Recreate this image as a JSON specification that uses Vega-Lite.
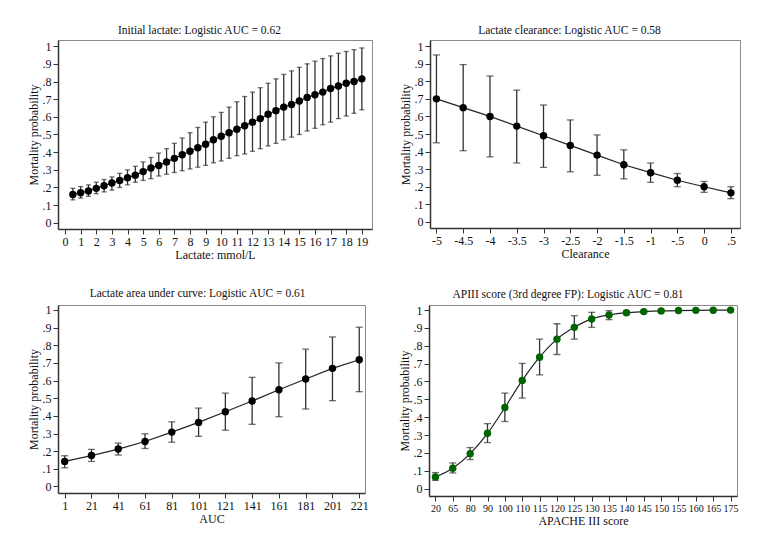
{
  "$schema": "https://vega.github.io/schema/vega-lite/v6.json",
  "background": "white",
  "padding": {"left": 26, "top": 24, "right": 10, "bottom": 10},
  "config": {
    "font": "'Liberation Serif', 'Times New Roman', serif",
    "view": {"stroke": "#8a8a8a", "strokeWidth": 1},
    "axis": {"grid": false, "domainColor": "#333", "domainWidth": 1.5, "tickColor": "#333", "tickSize": 5, "labelFontSize": 12, "labelColor": "#111", "titleFontSize": 12, "titleFontWeight": "normal", "titleColor": "#111", "labelPadding": 2, "titlePadding": 2, "labelFlush": false, "labelOverlap": false},
    "title": {"fontSize": 11.5, "fontWeight": "normal", "color": "#111", "offset": 4, "frame": "bounds"}
  },
  "datasets": {
    "p1": [
      {"x": 0.5, "p": 0.16, "lo": 0.13, "hi": 0.195},
      {"x": 1, "p": 0.17, "lo": 0.14, "hi": 0.205},
      {"x": 1.5, "p": 0.18, "lo": 0.15, "hi": 0.215},
      {"x": 2, "p": 0.195, "lo": 0.165, "hi": 0.23},
      {"x": 2.5, "p": 0.21, "lo": 0.175, "hi": 0.245},
      {"x": 3, "p": 0.225, "lo": 0.185, "hi": 0.26},
      {"x": 3.5, "p": 0.24, "lo": 0.2, "hi": 0.28},
      {"x": 4, "p": 0.255, "lo": 0.215, "hi": 0.3},
      {"x": 4.5, "p": 0.27, "lo": 0.23, "hi": 0.32},
      {"x": 5, "p": 0.29, "lo": 0.24, "hi": 0.345},
      {"x": 5.5, "p": 0.31, "lo": 0.25, "hi": 0.37},
      {"x": 6, "p": 0.325, "lo": 0.265, "hi": 0.395},
      {"x": 6.5, "p": 0.345, "lo": 0.275, "hi": 0.42},
      {"x": 7, "p": 0.365, "lo": 0.285, "hi": 0.45},
      {"x": 7.5, "p": 0.385, "lo": 0.295, "hi": 0.48},
      {"x": 8, "p": 0.405, "lo": 0.305, "hi": 0.51},
      {"x": 8.5, "p": 0.425, "lo": 0.315, "hi": 0.54},
      {"x": 9, "p": 0.445, "lo": 0.325, "hi": 0.57},
      {"x": 9.5, "p": 0.47, "lo": 0.34, "hi": 0.6},
      {"x": 10, "p": 0.49, "lo": 0.35, "hi": 0.625},
      {"x": 10.5, "p": 0.51, "lo": 0.365, "hi": 0.655},
      {"x": 11, "p": 0.53, "lo": 0.38, "hi": 0.685},
      {"x": 11.5, "p": 0.55, "lo": 0.39, "hi": 0.715},
      {"x": 12, "p": 0.57, "lo": 0.405, "hi": 0.74},
      {"x": 12.5, "p": 0.59, "lo": 0.42, "hi": 0.765},
      {"x": 13, "p": 0.615, "lo": 0.435, "hi": 0.79},
      {"x": 13.5, "p": 0.635, "lo": 0.45, "hi": 0.815},
      {"x": 14, "p": 0.655, "lo": 0.47, "hi": 0.84},
      {"x": 14.5, "p": 0.67, "lo": 0.485, "hi": 0.86},
      {"x": 15, "p": 0.69, "lo": 0.5, "hi": 0.88},
      {"x": 15.5, "p": 0.71, "lo": 0.52, "hi": 0.9},
      {"x": 16, "p": 0.725, "lo": 0.535, "hi": 0.915},
      {"x": 16.5, "p": 0.74, "lo": 0.555, "hi": 0.93},
      {"x": 17, "p": 0.76, "lo": 0.57, "hi": 0.945},
      {"x": 17.5, "p": 0.775, "lo": 0.59, "hi": 0.96},
      {"x": 18, "p": 0.79, "lo": 0.605, "hi": 0.97},
      {"x": 18.5, "p": 0.8, "lo": 0.62, "hi": 0.98},
      {"x": 19, "p": 0.815, "lo": 0.64, "hi": 0.99}
    ],
    "p2": [
      {"x": -5, "p": 0.7, "lo": 0.45, "hi": 0.95},
      {"x": -4.5, "p": 0.65, "lo": 0.405, "hi": 0.895},
      {"x": -4, "p": 0.6, "lo": 0.37, "hi": 0.83},
      {"x": -3.5, "p": 0.545, "lo": 0.335, "hi": 0.75},
      {"x": -3, "p": 0.49, "lo": 0.31, "hi": 0.665},
      {"x": -2.5, "p": 0.435, "lo": 0.285, "hi": 0.58},
      {"x": -2, "p": 0.38, "lo": 0.265, "hi": 0.495},
      {"x": -1.5, "p": 0.325, "lo": 0.245, "hi": 0.41},
      {"x": -1, "p": 0.28, "lo": 0.225, "hi": 0.335},
      {"x": -0.5, "p": 0.237, "lo": 0.2, "hi": 0.275},
      {"x": 0, "p": 0.2, "lo": 0.168, "hi": 0.23},
      {"x": 0.5, "p": 0.165, "lo": 0.132, "hi": 0.2}
    ],
    "p3": [
      {"x": 1, "p": 0.142, "lo": 0.106, "hi": 0.174},
      {"x": 21, "p": 0.175, "lo": 0.142, "hi": 0.21},
      {"x": 41, "p": 0.212, "lo": 0.178, "hi": 0.246},
      {"x": 61, "p": 0.255, "lo": 0.215, "hi": 0.298},
      {"x": 81, "p": 0.308, "lo": 0.251, "hi": 0.366},
      {"x": 101, "p": 0.363, "lo": 0.284, "hi": 0.444},
      {"x": 121, "p": 0.423, "lo": 0.319, "hi": 0.529},
      {"x": 141, "p": 0.484, "lo": 0.352, "hi": 0.618},
      {"x": 161, "p": 0.548, "lo": 0.395, "hi": 0.7},
      {"x": 181, "p": 0.609, "lo": 0.439, "hi": 0.778},
      {"x": 201, "p": 0.669, "lo": 0.486, "hi": 0.847},
      {"x": 221, "p": 0.718, "lo": 0.537, "hi": 0.902}
    ],
    "p4": [
      {"x": 20, "p": 0.065, "lo": 0.047, "hi": 0.09},
      {"x": 65, "p": 0.114, "lo": 0.088, "hi": 0.144},
      {"x": 80, "p": 0.196, "lo": 0.163, "hi": 0.23},
      {"x": 90, "p": 0.31, "lo": 0.258, "hi": 0.364},
      {"x": 100, "p": 0.454, "lo": 0.376, "hi": 0.535},
      {"x": 110, "p": 0.606, "lo": 0.507, "hi": 0.701},
      {"x": 115, "p": 0.736, "lo": 0.637, "hi": 0.837},
      {"x": 120, "p": 0.837, "lo": 0.751, "hi": 0.923},
      {"x": 125, "p": 0.903, "lo": 0.837, "hi": 0.968},
      {"x": 130, "p": 0.95, "lo": 0.903, "hi": 0.987},
      {"x": 135, "p": 0.972, "lo": 0.946, "hi": 0.996},
      {"x": 140, "p": 0.985, "lo": 0.974, "hi": 0.994},
      {"x": 145, "p": 0.991, "lo": 0.984, "hi": 0.996},
      {"x": 150, "p": 0.995, "lo": 0.99, "hi": 0.998},
      {"x": 155, "p": 0.997, "lo": 0.994, "hi": 0.999},
      {"x": 160, "p": 0.998, "lo": 0.996, "hi": 0.9995},
      {"x": 165, "p": 0.999, "lo": 0.998, "hi": 0.9998},
      {"x": 175, "p": 0.9995, "lo": 0.999, "hi": 1}
    ]
  },
  "vconcat": [
    {
      "spacing": 25,
      "hconcat": [
        {
          "title": "Initial lactate: Logistic AUC = 0.62",
          "width": 314, "height": 189,
          "data": {"name": "p1"},
          "layer": [
            {"mark": {"type": "line", "color": "#222", "strokeWidth": 1.2},
             "encoding": {
               "x": {"field": "x", "type": "quantitative", "title": "Lactate: mmol/L", "scale": {"domain": [-0.45, 19.65], "nice": false, "zero": false}, "axis": {"values": [0,1,2,3,4,5,6,7,8,9,10,11,12,13,14,15,16,17,18,19]}},
               "y": {"field": "p", "type": "quantitative", "title": "Mortality probability", "scale": {"domain": [-0.035, 1.035], "nice": false}, "axis": {"values": [0,0.1,0.2,0.3,0.4,0.5,0.6,0.7,0.8,0.9,1], "labelExpr": "replace(toString(datum.value), '0.', '.')"}}}},
            {"mark": {"type": "rule", "color": "#333", "strokeWidth": 1.3},
             "encoding": {
               "x": {"field": "x", "type": "quantitative", "title": "Lactate: mmol/L", "scale": {"domain": [-0.45, 19.65], "nice": false, "zero": false}, "axis": {"values": [0,1,2,3,4,5,6,7,8,9,10,11,12,13,14,15,16,17,18,19]}},
               "y": {"field": "lo", "type": "quantitative", "title": "Mortality probability", "scale": {"domain": [-0.035, 1.035], "nice": false}, "axis": {"values": [0,0.1,0.2,0.3,0.4,0.5,0.6,0.7,0.8,0.9,1], "labelExpr": "replace(toString(datum.value), '0.', '.')"}},
               "y2": {"field": "hi"}}},
            {"mark": {"type": "tick", "orient": "horizontal", "size": 5, "thickness": 1.3, "color": "#333"},
             "encoding": {
               "x": {"field": "x", "type": "quantitative", "title": "Lactate: mmol/L", "scale": {"domain": [-0.45, 19.65], "nice": false, "zero": false}, "axis": {"values": [0,1,2,3,4,5,6,7,8,9,10,11,12,13,14,15,16,17,18,19]}},
               "y": {"field": "lo", "type": "quantitative", "title": "Mortality probability", "scale": {"domain": [-0.035, 1.035], "nice": false}, "axis": {"values": [0,0.1,0.2,0.3,0.4,0.5,0.6,0.7,0.8,0.9,1], "labelExpr": "replace(toString(datum.value), '0.', '.')"}}}},
            {"mark": {"type": "tick", "orient": "horizontal", "size": 5, "thickness": 1.3, "color": "#333"},
             "encoding": {
               "x": {"field": "x", "type": "quantitative", "title": "Lactate: mmol/L", "scale": {"domain": [-0.45, 19.65], "nice": false, "zero": false}, "axis": {"values": [0,1,2,3,4,5,6,7,8,9,10,11,12,13,14,15,16,17,18,19]}},
               "y": {"field": "hi", "type": "quantitative", "title": "Mortality probability", "scale": {"domain": [-0.035, 1.035], "nice": false}, "axis": {"values": [0,0.1,0.2,0.3,0.4,0.5,0.6,0.7,0.8,0.9,1], "labelExpr": "replace(toString(datum.value), '0.', '.')"}}}},
            {"mark": {"type": "circle", "size": 55, "opacity": 1, "color": "#000"},
             "encoding": {
               "x": {"field": "x", "type": "quantitative", "title": "Lactate: mmol/L", "scale": {"domain": [-0.45, 19.65], "nice": false, "zero": false}, "axis": {"values": [0,1,2,3,4,5,6,7,8,9,10,11,12,13,14,15,16,17,18,19]}},
               "y": {"field": "p", "type": "quantitative", "title": "Mortality probability", "scale": {"domain": [-0.035, 1.035], "nice": false}, "axis": {"values": [0,0.1,0.2,0.3,0.4,0.5,0.6,0.7,0.8,0.9,1], "labelExpr": "replace(toString(datum.value), '0.', '.')"}}}}
          ]
        },
        {
          "title": "Lactate clearance: Logistic AUC = 0.58",
          "width": 310, "height": 188,
          "data": {"name": "p2"},
          "layer": [
            {"mark": {"type": "line", "color": "#222", "strokeWidth": 1.2},
             "encoding": {
               "x": {"field": "x", "type": "quantitative", "title": "Clearance", "scale": {"domain": [-5.12, 0.67], "nice": false, "zero": false}, "axis": {"values": [-5,-4.5,-4,-3.5,-3,-2.5,-2,-1.5,-1,-0.5,0,0.5], "labelExpr": "replace(toString(datum.value), '0.', '.')"}},
               "y": {"field": "p", "type": "quantitative", "title": "Mortality probability", "scale": {"domain": [-0.035, 1.035], "nice": false}, "axis": {"values": [0,0.1,0.2,0.3,0.4,0.5,0.6,0.7,0.8,0.9,1], "labelExpr": "replace(toString(datum.value), '0.', '.')"}}}},
            {"mark": {"type": "rule", "color": "#333", "strokeWidth": 1.3},
             "encoding": {
               "x": {"field": "x", "type": "quantitative", "title": "Clearance", "scale": {"domain": [-5.12, 0.67], "nice": false, "zero": false}, "axis": {"values": [-5,-4.5,-4,-3.5,-3,-2.5,-2,-1.5,-1,-0.5,0,0.5], "labelExpr": "replace(toString(datum.value), '0.', '.')"}},
               "y": {"field": "lo", "type": "quantitative", "title": "Mortality probability", "scale": {"domain": [-0.035, 1.035], "nice": false}, "axis": {"values": [0,0.1,0.2,0.3,0.4,0.5,0.6,0.7,0.8,0.9,1], "labelExpr": "replace(toString(datum.value), '0.', '.')"}},
               "y2": {"field": "hi"}}},
            {"mark": {"type": "tick", "orient": "horizontal", "size": 7, "thickness": 1.3, "color": "#333"},
             "encoding": {
               "x": {"field": "x", "type": "quantitative", "title": "Clearance", "scale": {"domain": [-5.12, 0.67], "nice": false, "zero": false}, "axis": {"values": [-5,-4.5,-4,-3.5,-3,-2.5,-2,-1.5,-1,-0.5,0,0.5], "labelExpr": "replace(toString(datum.value), '0.', '.')"}},
               "y": {"field": "lo", "type": "quantitative", "title": "Mortality probability", "scale": {"domain": [-0.035, 1.035], "nice": false}, "axis": {"values": [0,0.1,0.2,0.3,0.4,0.5,0.6,0.7,0.8,0.9,1], "labelExpr": "replace(toString(datum.value), '0.', '.')"}}}},
            {"mark": {"type": "tick", "orient": "horizontal", "size": 7, "thickness": 1.3, "color": "#333"},
             "encoding": {
               "x": {"field": "x", "type": "quantitative", "title": "Clearance", "scale": {"domain": [-5.12, 0.67], "nice": false, "zero": false}, "axis": {"values": [-5,-4.5,-4,-3.5,-3,-2.5,-2,-1.5,-1,-0.5,0,0.5], "labelExpr": "replace(toString(datum.value), '0.', '.')"}},
               "y": {"field": "hi", "type": "quantitative", "title": "Mortality probability", "scale": {"domain": [-0.035, 1.035], "nice": false}, "axis": {"values": [0,0.1,0.2,0.3,0.4,0.5,0.6,0.7,0.8,0.9,1], "labelExpr": "replace(toString(datum.value), '0.', '.')"}}}},
            {"mark": {"type": "circle", "size": 55, "opacity": 1, "color": "#000"},
             "encoding": {
               "x": {"field": "x", "type": "quantitative", "title": "Clearance", "scale": {"domain": [-5.12, 0.67], "nice": false, "zero": false}, "axis": {"values": [-5,-4.5,-4,-3.5,-3,-2.5,-2,-1.5,-1,-0.5,0,0.5], "labelExpr": "replace(toString(datum.value), '0.', '.')"}},
               "y": {"field": "p", "type": "quantitative", "title": "Mortality probability", "scale": {"domain": [-0.035, 1.035], "nice": false}, "axis": {"values": [0,0.1,0.2,0.3,0.4,0.5,0.6,0.7,0.8,0.9,1], "labelExpr": "replace(toString(datum.value), '0.', '.')"}}}}
          ]
        }
      ]
    },
    {
      "spacing": 28,
      "hconcat": [
        {
          "title": "Lactate area under curve: Logistic AUC = 0.61",
          "width": 307, "height": 188,
          "data": {"name": "p3"},
          "layer": [
            {"mark": {"type": "line", "color": "#222", "strokeWidth": 1.2},
             "encoding": {
               "x": {"field": "x", "type": "quantitative", "title": "AUC", "scale": {"domain": [-4, 225.3], "nice": false, "zero": false}, "axis": {"values": [1,21,41,61,81,101,121,141,161,181,201,221]}},
               "y": {"field": "p", "type": "quantitative", "title": "Mortality probability", "scale": {"domain": [-0.037, 1.028], "nice": false}, "axis": {"values": [0,0.1,0.2,0.3,0.4,0.5,0.6,0.7,0.8,0.9,1], "labelExpr": "replace(toString(datum.value), '0.', '.')"}}}},
            {"mark": {"type": "rule", "color": "#333", "strokeWidth": 1.3},
             "encoding": {
               "x": {"field": "x", "type": "quantitative", "title": "AUC", "scale": {"domain": [-4, 225.3], "nice": false, "zero": false}, "axis": {"values": [1,21,41,61,81,101,121,141,161,181,201,221]}},
               "y": {"field": "lo", "type": "quantitative", "title": "Mortality probability", "scale": {"domain": [-0.037, 1.028], "nice": false}, "axis": {"values": [0,0.1,0.2,0.3,0.4,0.5,0.6,0.7,0.8,0.9,1], "labelExpr": "replace(toString(datum.value), '0.', '.')"}},
               "y2": {"field": "hi"}}},
            {"mark": {"type": "tick", "orient": "horizontal", "size": 7, "thickness": 1.3, "color": "#333"},
             "encoding": {
               "x": {"field": "x", "type": "quantitative", "title": "AUC", "scale": {"domain": [-4, 225.3], "nice": false, "zero": false}, "axis": {"values": [1,21,41,61,81,101,121,141,161,181,201,221]}},
               "y": {"field": "lo", "type": "quantitative", "title": "Mortality probability", "scale": {"domain": [-0.037, 1.028], "nice": false}, "axis": {"values": [0,0.1,0.2,0.3,0.4,0.5,0.6,0.7,0.8,0.9,1], "labelExpr": "replace(toString(datum.value), '0.', '.')"}}}},
            {"mark": {"type": "tick", "orient": "horizontal", "size": 7, "thickness": 1.3, "color": "#333"},
             "encoding": {
               "x": {"field": "x", "type": "quantitative", "title": "AUC", "scale": {"domain": [-4, 225.3], "nice": false, "zero": false}, "axis": {"values": [1,21,41,61,81,101,121,141,161,181,201,221]}},
               "y": {"field": "hi", "type": "quantitative", "title": "Mortality probability", "scale": {"domain": [-0.037, 1.028], "nice": false}, "axis": {"values": [0,0.1,0.2,0.3,0.4,0.5,0.6,0.7,0.8,0.9,1], "labelExpr": "replace(toString(datum.value), '0.', '.')"}}}},
            {"mark": {"type": "circle", "size": 55, "opacity": 1, "color": "#000"},
             "encoding": {
               "x": {"field": "x", "type": "quantitative", "title": "AUC", "scale": {"domain": [-4, 225.3], "nice": false, "zero": false}, "axis": {"values": [1,21,41,61,81,101,121,141,161,181,201,221]}},
               "y": {"field": "p", "type": "quantitative", "title": "Mortality probability", "scale": {"domain": [-0.037, 1.028], "nice": false}, "axis": {"values": [0,0.1,0.2,0.3,0.4,0.5,0.6,0.7,0.8,0.9,1], "labelExpr": "replace(toString(datum.value), '0.', '.')"}}}}
          ]
        },
        {
          "title": "APIII score (3rd degree FP): Logistic AUC = 0.81",
          "width": 308, "height": 191,
          "data": {"name": "p4"},
          "layer": [
            {"mark": {"type": "line", "color": "#222", "strokeWidth": 1.2, "interpolate": "monotone"},
             "encoding": {
               "x": {"field": "x", "type": "ordinal", "title": "APACHE III score", "scale": {"type": "point", "padding": 0.37}, "axis": {"labelAngle": 0, "labelFontSize": 10}},
               "y": {"field": "p", "type": "quantitative", "title": "Mortality probability", "scale": {"domain": [-0.041, 1.028], "nice": false}, "axis": {"values": [0,0.1,0.2,0.3,0.4,0.5,0.6,0.7,0.8,0.9,1], "labelExpr": "replace(toString(datum.value), '0.', '.')"}}}},
            {"mark": {"type": "rule", "color": "#333", "strokeWidth": 1.3},
             "encoding": {
               "x": {"field": "x", "type": "ordinal", "title": "APACHE III score", "scale": {"type": "point", "padding": 0.37}, "axis": {"labelAngle": 0, "labelFontSize": 10}},
               "y": {"field": "lo", "type": "quantitative", "title": "Mortality probability", "scale": {"domain": [-0.041, 1.028], "nice": false}, "axis": {"values": [0,0.1,0.2,0.3,0.4,0.5,0.6,0.7,0.8,0.9,1], "labelExpr": "replace(toString(datum.value), '0.', '.')"}},
               "y2": {"field": "hi"}}},
            {"mark": {"type": "tick", "orient": "horizontal", "size": 7, "thickness": 1.3, "color": "#333"},
             "encoding": {
               "x": {"field": "x", "type": "ordinal", "title": "APACHE III score", "scale": {"type": "point", "padding": 0.37}, "axis": {"labelAngle": 0, "labelFontSize": 10}},
               "y": {"field": "lo", "type": "quantitative", "title": "Mortality probability", "scale": {"domain": [-0.041, 1.028], "nice": false}, "axis": {"values": [0,0.1,0.2,0.3,0.4,0.5,0.6,0.7,0.8,0.9,1], "labelExpr": "replace(toString(datum.value), '0.', '.')"}}}},
            {"mark": {"type": "tick", "orient": "horizontal", "size": 7, "thickness": 1.3, "color": "#333"},
             "encoding": {
               "x": {"field": "x", "type": "ordinal", "title": "APACHE III score", "scale": {"type": "point", "padding": 0.37}, "axis": {"labelAngle": 0, "labelFontSize": 10}},
               "y": {"field": "hi", "type": "quantitative", "title": "Mortality probability", "scale": {"domain": [-0.041, 1.028], "nice": false}, "axis": {"values": [0,0.1,0.2,0.3,0.4,0.5,0.6,0.7,0.8,0.9,1], "labelExpr": "replace(toString(datum.value), '0.', '.')"}}}},
            {"mark": {"type": "circle", "size": 55, "opacity": 1, "color": "#006400"},
             "encoding": {
               "x": {"field": "x", "type": "ordinal", "title": "APACHE III score", "scale": {"type": "point", "padding": 0.37}, "axis": {"labelAngle": 0, "labelFontSize": 10}},
               "y": {"field": "p", "type": "quantitative", "title": "Mortality probability", "scale": {"domain": [-0.041, 1.028], "nice": false}, "axis": {"values": [0,0.1,0.2,0.3,0.4,0.5,0.6,0.7,0.8,0.9,1], "labelExpr": "replace(toString(datum.value), '0.', '.')"}}}}
          ]
        }
      ]
    }
  ],
  "spacing": 26
}
